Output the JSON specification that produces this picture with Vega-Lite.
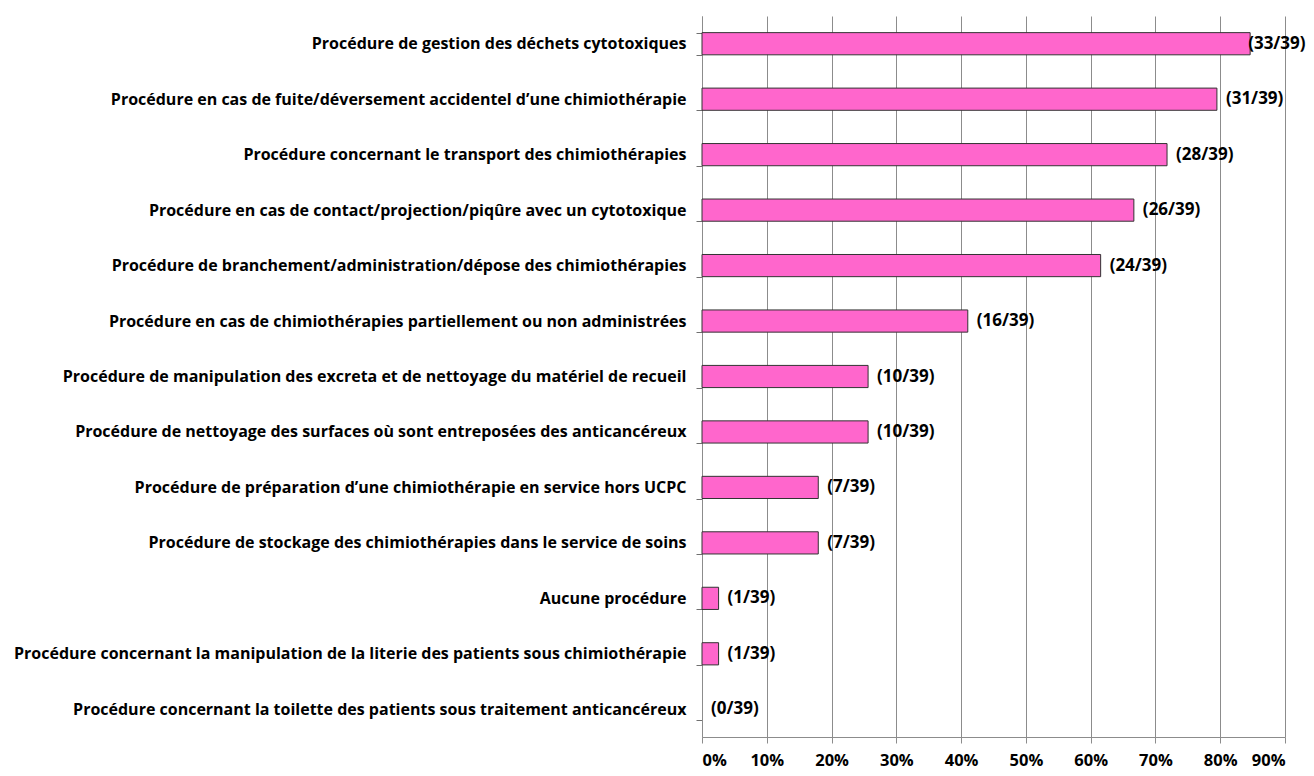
{
  "$schema": "https://vega.github.io/schema/vega-lite/v6.json",
  "autosize": {"type": "none"},
  "padding": {"left": 702, "top": 16, "right": 29, "bottom": 39},
  "width": 583,
  "height": 721,
  "background": "white",
  "data": {
    "values": [
      {"label": "Procédure de gestion des déchets cytotoxiques", "n": 33, "pct": 0.8462, "text": "(33/39)"},
      {"label": "Procédure en cas de fuite/déversement accidentel d’une chimiothérapie", "n": 31, "pct": 0.7949, "text": "(31/39)"},
      {"label": "Procédure concernant le transport des chimiothérapies", "n": 28, "pct": 0.7179, "text": "(28/39)"},
      {"label": "Procédure en cas de contact/projection/piqûre avec un cytotoxique", "n": 26, "pct": 0.6667, "text": "(26/39)"},
      {"label": "Procédure de branchement/administration/dépose des chimiothérapies", "n": 24, "pct": 0.6154, "text": "(24/39)"},
      {"label": "Procédure en cas de chimiothérapies partiellement ou  non administrées", "n": 16, "pct": 0.4103, "text": "(16/39)"},
      {"label": "Procédure de manipulation des excreta et de nettoyage du matériel de recueil", "n": 10, "pct": 0.2564, "text": "(10/39)"},
      {"label": "Procédure de nettoyage des surfaces où sont entreposées des anticancéreux", "n": 10, "pct": 0.2564, "text": "(10/39)"},
      {"label": "Procédure de préparation d’une chimiothérapie en service hors UCPC", "n": 7, "pct": 0.1795, "text": "(7/39)"},
      {"label": "Procédure de stockage des chimiothérapies dans le service de soins", "n": 7, "pct": 0.1795, "text": "(7/39)"},
      {"label": "Aucune procédure", "n": 1, "pct": 0.0256, "text": "(1/39)"},
      {"label": "Procédure concernant la manipulation de la literie des patients sous chimiothérapie", "n": 1, "pct": 0.0256, "text": "(1/39)"},
      {"label": "Procédure concernant la toilette des patients sous traitement anticancéreux", "n": 0, "pct": 0, "text": "(0/39)"}
    ]
  },
  "encoding": {
    "y": {
      "field": "label",
      "type": "nominal",
      "sort": null,
      "title": null,
      "scale": {"paddingInner": 0.6, "paddingOuter": 0.3},
      "axis": {
        "tickBand": "extent",
        "domainColor": "#8c8c8c",
        "tickColor": "#707070",
        "tickSize": 6,
        "labelPadding": 10,
        "labelFont": "Open Sans",
        "labelFontWeight": "bold",
        "labelFontSize": 16,
        "labelColor": "#000000",
        "labelLimit": 0
      }
    },
    "x": {
      "field": "pct",
      "type": "quantitative",
      "title": null,
      "scale": {"domain": [0, 0.9], "nice": false},
      "axis": {
        "format": "%",
        "values": [0, 0.1, 0.2, 0.3, 0.4, 0.5, 0.6, 0.7, 0.8, 0.9],
        "gridColor": "#8c8c8c",
        "domainColor": "#8c8c8c",
        "tickColor": "#8c8c8c",
        "tickSize": 6,
        "labelPadding": 9,
        "labelFont": "Open Sans",
        "labelFontWeight": "bold",
        "labelFontSize": 16.5,
        "labelColor": "#000000"
      }
    }
  },
  "layer": [
    {
      "transform": [{"filter": "datum.n > 0"}],
      "mark": {"type": "bar", "fill": "#FF66CC", "stroke": "#333333", "strokeWidth": 1}
    },
    {
      "transform": [{"filter": "datum.n < 33"}],
      "mark": {"type": "text", "align": "left", "baseline": "middle", "dx": 9, "font": "Open Sans", "fontWeight": "bold", "fontSize": 17, "color": "#000000"},
      "encoding": {"text": {"field": "text"}}
    },
    {
      "transform": [{"filter": "datum.n >= 33"}],
      "mark": {"type": "text", "align": "left", "baseline": "middle", "dx": -2, "font": "Open Sans", "fontWeight": "bold", "fontSize": 17, "color": "#000000"},
      "encoding": {"text": {"field": "text"}}
    }
  ],
  "config": {"view": {"stroke": null}}
}
